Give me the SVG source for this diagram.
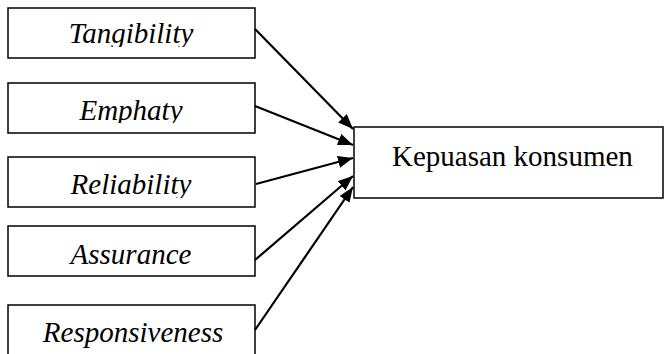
<svg xmlns="http://www.w3.org/2000/svg" width="664" height="354" viewBox="0 0 664 354">
<style>
  .box { fill: #ffffff; stroke: #000000; stroke-width: 1.5; }
  .lbl { font-family: 'Liberation Serif', 'DejaVu Serif', serif; font-style: italic; font-size: 29px; fill: #000000; text-anchor: middle; }
  .main { font-family: 'Liberation Serif', 'DejaVu Serif', serif; font-size: 29px; fill: #000000; }
  .conn { stroke: #000000; stroke-width: 2.2; fill: none; marker-end: url(#ah); }
</style>
<defs>
  <marker id="ah" markerUnits="userSpaceOnUse" markerWidth="16" markerHeight="12" refX="15" refY="6" orient="auto">
    <path d="M0,0 L15,6 L0,12 Z" fill="#000000"/>
  </marker>
  <clipPath id="c1"><rect x="8" y="8" width="247" height="39"/></clipPath>
  <clipPath id="c2"><rect x="8" y="83" width="247" height="40"/></clipPath>
  <clipPath id="c3"><rect x="8" y="157" width="247" height="41"/></clipPath>
  <clipPath id="c4"><rect x="8" y="226" width="247" height="50"/></clipPath>
  <clipPath id="c5"><rect x="8" y="305" width="247" height="49"/></clipPath>
</defs>
<rect width="664" height="354" fill="#ffffff"/>
<g id="tangibility">
  <rect class="box" x="8" y="8" width="247" height="50"/>
  <text class="lbl" x="131" y="43" clip-path="url(#c1)">Tangibility</text>
</g>
<g id="emphaty">
  <rect class="box" x="8" y="83" width="247" height="50"/>
  <text class="lbl" x="131" y="120" clip-path="url(#c2)">Emphaty</text>
</g>
<g id="reliability">
  <rect class="box" x="8" y="157" width="247" height="50"/>
  <text class="lbl" x="131" y="194" clip-path="url(#c3)">Reliability</text>
</g>
<g id="assurance">
  <rect class="box" x="8" y="226" width="247" height="50"/>
  <text class="lbl" x="131" y="264" clip-path="url(#c4)">Assurance</text>
</g>
<g id="responsiveness">
  <rect class="box" x="8" y="305" width="247" height="60"/>
  <text class="lbl" x="133" y="342" clip-path="url(#c5)">Responsiveness</text>
</g>
<g id="kepuasan">
  <rect class="box" x="354" y="127" width="309" height="71"/>
  <text class="main" x="392" y="166">Kepuasan konsumen</text>
</g>
<g id="connectors">
  <line class="conn" x1="255" y1="29" x2="353" y2="129"/>
  <line class="conn" x1="255" y1="106" x2="353" y2="145"/>
  <line class="conn" x1="256" y1="184" x2="353" y2="158"/>
  <line class="conn" x1="255" y1="260" x2="353" y2="176"/>
  <line class="conn" x1="255" y1="330" x2="353" y2="187"/>
</g>
</svg>
